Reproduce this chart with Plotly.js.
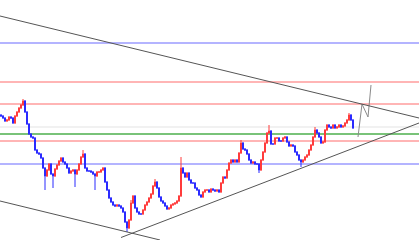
<!DOCTYPE html>
<html>
<head>
<meta charset="utf-8">
<script src="https://cdn.plot.ly/plotly-3.0.1.min.js"></script>
<style>html,body{margin:0;padding:0;background:#fff;}#chart{width:419px;height:240px;}</style>
</head>
<body>
<div id="chart"></div>
<script>
// Closing prices, one per bar
const closes = [
  1184, 1182, 1179, 1180, 1183, 1182, 1177, 1184, 1188, 1192,
  1195, 1199, 1188, 1176, 1166, 1163, 1162, 1150, 1147, 1146,
  1142, 1132, 1124, 1130, 1136, 1126, 1124, 1131, 1135, 1139,
  1142, 1138, 1136, 1132, 1127, 1129, 1130, 1126, 1130, 1136,
  1143, 1146, 1132, 1129, 1129, 1128, 1126, 1124, 1128, 1128,
  1130, 1132, 1118, 1110, 1102, 1098, 1095, 1094, 1095, 1094,
  1092, 1088, 1078, 1072, 1080, 1097, 1104, 1092, 1088, 1086,
  1086, 1090, 1095, 1098, 1102, 1106, 1114, 1118, 1112, 1103,
  1099, 1097, 1094, 1091, 1092, 1095, 1096, 1097, 1099, 1104,
  1132, 1127, 1123, 1127, 1120, 1117, 1117, 1112, 1110, 1105,
  1103, 1108, 1110, 1110, 1108, 1111, 1110, 1109, 1110, 1108,
  1117, 1123, 1122, 1130, 1137, 1140, 1138, 1140, 1138, 1147,
  1157, 1151, 1150, 1146, 1140, 1137, 1138, 1136, 1136, 1130,
  1140, 1148, 1157, 1167, 1169, 1156, 1156, 1162, 1162, 1159,
  1159, 1162, 1163, 1158, 1154, 1155, 1154, 1148, 1145, 1140,
  1138, 1140, 1143, 1145, 1150, 1155, 1163, 1170, 1167, 1163,
  1157, 1158, 1170, 1175, 1173, 1172, 1175, 1172, 1173, 1175,
  1173, 1174, 1177, 1180, 1185, 1180, 1172
];
const firstOpen = 1185;
// Bars with long wicks: bar index and the wick tip price
const highWickIdx = [11, 41, 65, 77, 90, 120, 134, 157, 174];
const highWickVal = [1201, 1150, 1100, 1121, 1143, 1160, 1175, 1173, 1187];
const lowWickIdx  = [22, 26, 37, 47, 63, 129, 150];
const lowWickVal  = [1110, 1112, 1113, 1110, 1068, 1127, 1133];

// Horizontal levels
const levels      = [1257, 1218, 1196, 1173, 1166, 1159, 1136];
const levelColors = ['#b4b4ff', '#ff9c9c', '#ff9c9c', '#ececec', '#4caf4c', '#ff9c9c', '#b4b4ff'];
const levelWidths = [2, 1.5, 1.5, 1.5, 1.5, 1.5, 2];

// Trend lines [x0, y0, x1, y1] in bar index / price
const trendLines = [
  [-0.5, 1284, 209, 1182],
  [-0.5, 1099, 79.5, 1060],
  [60, 1062.5, 209, 1177]
];
// Projection path
const pathX = [178.5, 180.5, 183.5, 185];
const pathY = [1163, 1196, 1183, 1215];

const n = closes.length;
const idx = [], opens = [], highs = [], lows = [];
for (let i = 0; i < n; i++) {
  idx.push(i);
  const o = i === 0 ? firstOpen : closes[i - 1];
  opens.push(o);
  highs.push(Math.max(o, closes[i]) + 1);
  lows.push(Math.min(o, closes[i]) - 1);
}
highWickIdx.forEach((k, j) => { highs[k] = Math.max(highs[k], highWickVal[j]); });
lowWickIdx.forEach((k, j) => { lows[k] = Math.min(lows[k], lowWickVal[j]); });

const shapes = [];
levels.forEach((lv, j) => shapes.push({
  type: 'line', xref: 'paper', yref: 'y', x0: 0, x1: 1, y0: lv, y1: lv,
  line: {color: levelColors[j], width: levelWidths[j]}, layer: 'below'
}));
trendLines.forEach(t => shapes.push({
  type: 'line', xref: 'x', yref: 'y', x0: t[0], y0: t[1], x1: t[2], y1: t[3],
  line: {color: '#555555', width: 1}, layer: 'above'
}));

const data = [
  {
    type: 'candlestick', x: idx, open: opens, high: highs, low: lows, close: closes,
    increasing: {line: {color: '#ff3b3b', width: 1}, fillcolor: '#ff3b3b'},
    decreasing: {line: {color: '#2a2aff', width: 1}, fillcolor: '#2a2aff'},
    whiskerwidth: 0, hoverinfo: 'skip'
  },
  {
    type: 'scatter', mode: 'lines', x: pathX, y: pathY,
    line: {color: '#8a8a8a', width: 1}, hoverinfo: 'skip'
  }
];

const layout = {
  width: 419, height: 240,
  margin: {l: 0, r: 0, t: 0, b: 0},
  paper_bgcolor: '#ffffff', plot_bgcolor: '#ffffff',
  showlegend: false,
  xaxis: {range: [-0.5, 209], visible: false, rangeslider: {visible: false}, fixedrange: true},
  yaxis: {range: [1060, 1300], visible: false, fixedrange: true},
  shapes: shapes
};

Plotly.newPlot('chart', data, layout, {staticPlot: true, displayModeBar: false});
</script>
</body>
</html>
